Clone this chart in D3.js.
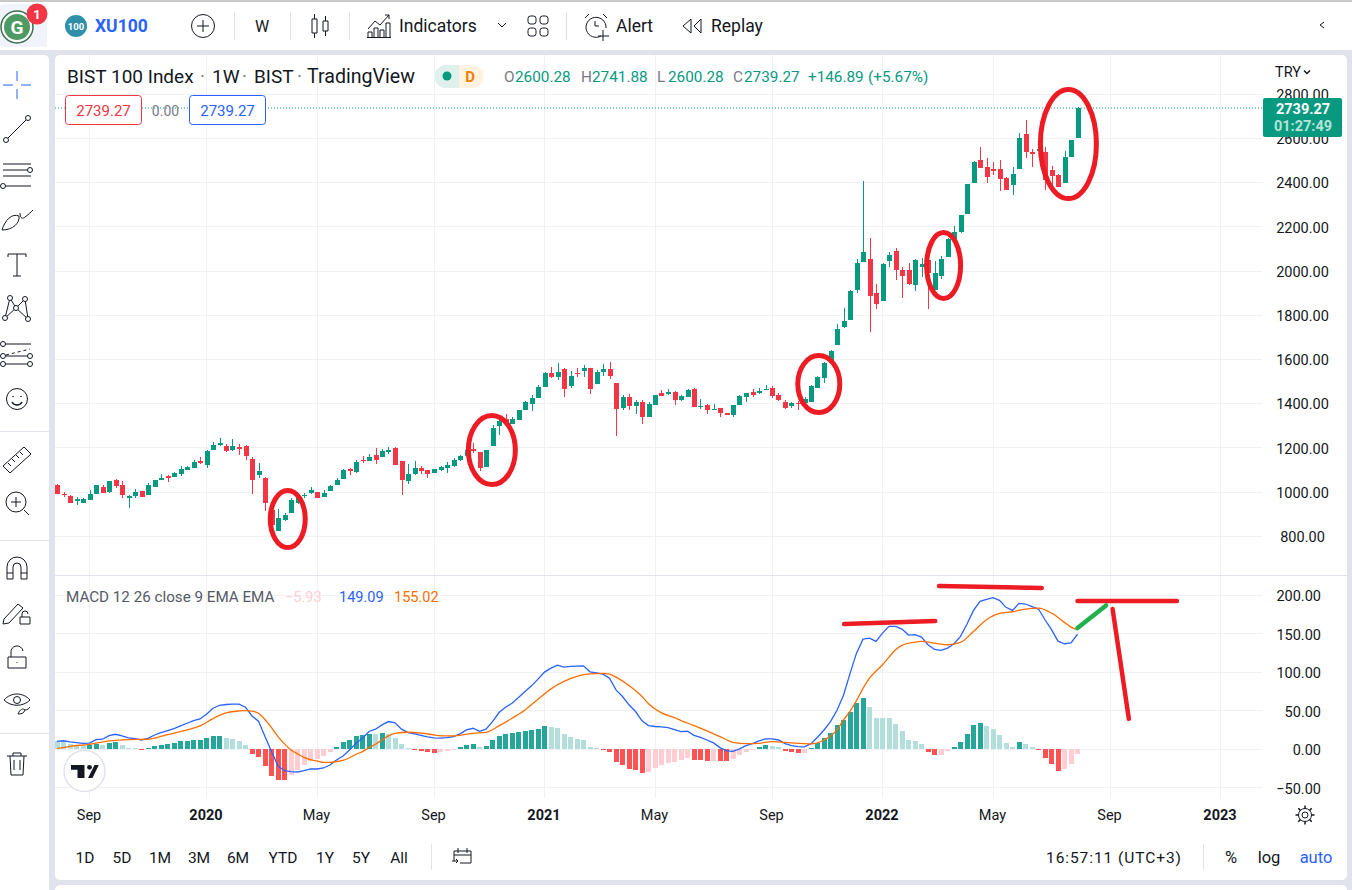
<!DOCTYPE html>
<html>
<head>
<meta charset="utf-8">
<script src="https://cdn.jsdelivr.net/npm/d3@7/dist/d3.min.js"></script>
<style>
  html, body { margin: 0; padding: 0; background: #e0e3eb; overflow: hidden; }
  svg { display: block; font-family: Roboto, sans-serif; }
  text { fill: #131722; }
</style>
</head>
<body>
<svg id="viz" width="1352" height="890"></svg>
<script>
// weekly candles, index 0 is the last week of Jul 2019
const opens = [1032,993,981,961,951,964,991,1023,1000,1055,
  1032,973,982,1005,987,1023,1055,1073,1068,1082,
  1100,1109,1141,1122,1190,1213,1209,1190,1204,1209,
  1150,1077,1064,919,824,874,905,951,982,996,
  1000,978,1005,1032,1059,1105,1091,1145,1141,1168,
  1159,1182,1200,1141,1050,1082,1109,1100,1087,1100,
  1109,1118,1145,1164,1195,1182,1114,1209,1299,1331,
  1308,1326,1372,1399,1426,1476,1539,1521,1557,1480,
  1539,1548,1562,1489,1544,1557,1494,1381,1430,1390,
  1408,1340,1394,1449,1444,1453,1417,1430,1467,1385,
  1394,1372,1381,1358,1349,1394,1430,1453,1449,1462,
  1471,1440,1408,1390,1403,1403,1408,1471,1516,1583,
  1666,1747,1779,1915,2041,2055,1901,1865,2046,2091,
  2005,2005,1937,2019,2050,1915,1978,2064,2141,2177,
  2258,2399,2503,2471,2462,2462,2421,2390,2462,2620,
  2539,2543,2539,2458,2435,2399,2516,2600.28];
const highs = [1035,999,985,976,972,1009,1032,1032,1050,1059,
  1050,987,1014,1005,1041,1055,1082,1077,1091,1118,
  1118,1145,1159,1190,1227,1245,1218,1240,1218,1213,
  1159,1132,1068,925,923,905,973,987,996,1023,
  1000,1009,1032,1064,1104,1109,1145,1164,1173,1200,
  1195,1204,1204,1141,1127,1141,1118,1100,1105,1118,
  1136,1154,1168,1195,1222,1182,1191,1304,1331,1354,
  1340,1372,1412,1440,1485,1544,1566,1584,1562,1548,
  1562,1575,1562,1553,1580,1589,1494,1440,1444,1417,
  1417,1408,1440,1462,1467,1458,1440,1467,1471,1421,
  1399,1399,1381,1358,1394,1440,1449,1467,1471,1485,
  1480,1449,1417,1408,1412,1430,1485,1525,1589,1643,
  1761,1833,1915,2055,2408,2150,1942,2037,2087,2105,
  2019,2037,2055,2059,2050,2046,2068,2150,2204,2254,
  2394,2498,2562,2512,2494,2503,2426,2471,2625,2684,
  2553,2560,2562,2476,2440,2544,2594,2741.88];
const lows = [991,979,951,942,951,964,991,996,996,1018,
  973,928,973,978,987,1023,1055,1046,1068,1073,
  1100,1109,1127,1109,1190,1209,1181,1186,1168,1145,
  991,1064,914,851,824,869,905,946,973,991,
  973,978,1005,1032,1059,1078,1087,1132,1141,1127,
  1159,1173,1123,987,1037,1078,1082,1064,1087,1096,
  1087,1114,1141,1160,1177,1096,1114,1209,1258,1304,
  1308,1326,1372,1367,1426,1476,1516,1507,1430,1471,
  1521,1521,1444,1489,1525,1512,1254,1372,1372,1354,
  1308,1340,1394,1435,1440,1394,1412,1430,1385,1376,
  1354,1372,1340,1349,1340,1394,1408,1430,1444,1462,
  1426,1412,1376,1381,1372,1403,1408,1471,1494,1583,
  1666,1743,1779,1901,2041,1725,1829,1865,2019,1960,
  1878,1937,1910,1973,1829,1915,1964,2064,2141,2172,
  2258,2399,2467,2399,2435,2363,2367,2345,2462,2512,
  2471,2512,2367,2390,2381,2399,2516,2600.28];
const closes = [993,987,951,970,967,991,1032,996,1050,1027,
  987,982,1000,978,1032,1055,1064,1065,1086,1104,
  1113,1136,1132,1186,1213,1222,1186,1209,1195,1163,
  1055,1095,951,851,883,896,964,979,987,1009,
  973,996,1027,1055,1100,1096,1136,1141,1159,1145,
  1186,1191,1123,1055,1082,1109,1096,1082,1105,1114,
  1123,1145,1164,1191,1186,1109,1191,1290,1322,1311,
  1331,1372,1408,1426,1476,1539,1521,1544,1467,1525,
  1534,1562,1467,1544,1557,1525,1376,1430,1390,1408,
  1340,1399,1440,1435,1453,1417,1435,1462,1385,1390,
  1372,1376,1358,1349,1394,1435,1449,1440,1458,1467,
  1435,1417,1381,1403,1399,1421,1480,1521,1584,1638,
  1738,1774,1910,2037,2087,1887,1851,2032,2073,2005,
  1978,1942,2050,2032,1992,1992,2055,2145,2177,2254,
  2394,2494,2467,2426,2453,2417,2367,2440,2602,2539,
  2530,2553,2412,2430,2381,2516,2593,2739.27];

const histogram = [11,10.9,7,5,4,5,7,6,8.5,9,
  5.5,2,1.7,-0.8,1.7,4.3,5.6,7.4,8.7,10.4,
  11.3,12.1,12.2,14.7,17.3,17.4,14.3,13,10.8,5.6,
  -6,-10,-21.6,-34.6,-39.8,-40,-33.3,-26.8,-20.4,-15.2,
  -12.6,-8.7,-3.5,3,9.5,12.1,17.3,18.6,20,19.5,
  21.2,19.9,14.7,7,1.7,-0.9,-2.6,-3.5,-4.8,-3,
  -2.2,-0.9,3,5.6,7,3,4.3,12.1,17.3,20,
  21.2,22.5,23.8,25.1,26.4,30.3,29,27.7,19.9,16,
  13.4,12.1,3,1.7,-0.9,-3.5,-16.5,-20.4,-25.6,-26.8,
  -30.7,-29.4,-24.3,-20.4,-17.8,-16.5,-13.9,-11.3,-13.9,-14,
  -15.2,-15,-15.3,-15.4,-12.6,-7.4,-3.5,-0.9,3,5.6,
  4.3,3,-2.2,-3.5,-4.8,-4.5,1.7,8.2,14.7,21.2,
  31.6,38.1,48.5,60.2,66.7,55,40.7,40.6,40.5,32.9,
  23.8,12.1,10.8,6.9,-3.5,-7.4,-7,-2.2,3,9.5,
  19.9,31.6,34.2,30.3,26.4,18.6,8.2,3,9.5,6.9,
  3,-0.9,-11.3,-19,-28.1,-25.5,-19,-5.93];
const macdLine = [10.3,11,9.5,8.6,7.7,8,12.5,13,17.7,19.4,
  17.3,14.7,13.8,12,14.2,18.5,21.6,24.2,26.8,30.2,
  33.7,37.2,39.3,45.4,53.2,57,58,58.4,58.4,54.5,
  43.2,36.3,16.4,-3,-21.7,-27.8,-29,-29.5,-27.8,-25.6,
  -25.6,-24.3,-20.4,-14,-8.7,-1,7.7,14.2,23,26,
  31.6,35.9,34.2,26,21.6,19.9,18.1,16,14.7,14.3,
  15.1,16.4,19.9,25.1,27.2,23.3,26,35.9,47.6,54.5,
  59.7,67,74.9,82.2,90.9,100,105.2,109.1,106.5,107.4,
  107.8,108.2,100.4,99,97.4,92.2,77,68.4,57.6,48.9,
  36.8,30.7,29.5,29,28,25.5,22.9,23.3,18.1,15.5,
  12,8.2,2.1,-2.2,-2.7,0.4,4.7,7.3,10.8,13.4,
  13.4,12,7.3,4.7,3.4,3,7.3,15.5,25,35.9,
  50.6,70,98,124.6,142.8,144.1,139.8,150.6,159.3,159.3,
  155.8,148,148.5,145.4,135.5,129.4,128.1,131.1,136.8,146.3,
  162.3,180,191.8,194.3,196.5,193.1,184,180,189.2,188.3,
  184.8,181.8,167.9,155,140.2,136.8,138,149.09];
// signal line was read at these weeks only
const signalWeeks = [0,2,5,8,11,14,17,20,22,24,26,28,29,30,31,32,33,34,35,36,37,38,39,40,41,42,43,44,45,46,47,48,49,50,51,52,
  54,56,58,60,62,64,66,68,70,72,74,76,78,80,82,84,85,86,88,90,91,93,95,96,98,100,102,104,106,108,110,112,114,116,118,
  120,121,122,123,124,125,127,128,129,130,132,133,135,137,139,141,143,145,147,149,151,153,155,156,157];
const signalLine = [0.8,3.8,6.4,10.8,12.5,12.9,19,25,30.2,39.8,47.1,49.7,50.2,49.3,46.7,38.5,28,16.4,6.9,-1,-6,-10.5,-13.4,-15.2,-17,-17,-16,-14.3,-11,-6.5,-3,2,6.5,12,17.3,20.7,
  22,21,18.6,17.3,18.1,20.7,22,30.3,40.2,51,64.9,78.3,87.9,94.4,97.8,98.3,97.4,93.5,82.7,68.4,59,47.1,41,37.2,30.7,23.7,16.4,9,7.3,7.7,9.9,9,7.7,6.9,12,
  25,38,49,63,79,92.2,109.5,119.4,129,134.6,138.9,139.8,137.6,135.5,138.5,152.8,167.9,176.2,178.3,181.8,183.1,176.6,164.5,158.4,155.02];

const priceTicks = [800,1000,1200,1400,1600,1800,2000,2200,2400,2600,2800];
const macdTicks = [-50,0,50,100,150,200];
const timeWeeks = [5,23,40,58,75,92,110,127,144,162,179];
const timeLabels = ["Sep","2020","May","Sep","2021","May","Sep","2022","May","Sep","2023"];
const yearLabels = ["2020","2021","2022","2023"];

// hand drawn marks on the screenshot
const circleWeeks = [35.5,66.9,117.2,136.4,155.6];
const circlePrices = [878,1190,1489,2025,2575];
const circleRx = [17.5,23.5,21,17,28];
const circleRy = [28.5,34.5,28.5,33,54.5];
const strokeWeeks = [[121.1,135.1],[135.7,151.5],[157,172.3],[162.4,164.9],[157,161.4]];
const strokeValues = [[162.3,166.2],[211.7,209],[192.2,192.2],[181.8,39.4],[157.1,186.5]];
const strokeColors = ["#ed1c24","#ed1c24","#ed1c24","#ed1c24","#22b14c"];

const UP = "#089981", DOWN = "#f23645";

const svg = d3.select("#viz");
const x = d3.scaleLinear().domain([0, 157]).range([57, 1077.5]);
const yPrice = d3.scaleLinear().domain([800, 2800]).range([536.3, 94.3]);
const yMacd = d3.scaleLinear().domain([-50, 200]).range([787.8, 595]);

// page frame
svg.append("rect").attr("width", 1352).attr("height", 890).attr("fill", "#e0e3eb");
svg.append("rect").attr("width", 1352).attr("height", 50).attr("fill", "#fff");
svg.append("rect").attr("width", 1352).attr("height", 2).attr("fill", "#c9c9c9");
svg.append("rect").attr("x", -8).attr("y", 55).attr("width", 57).attr("height", 845).attr("rx", 5).attr("fill", "#fff");
svg.append("rect").attr("x", 55).attr("y", 55).attr("width", 1292).attr("height", 825).attr("rx", 5).attr("fill", "#fff");
svg.append("rect").attr("x", 55).attr("y", 885).attr("width", 1292).attr("height", 20).attr("rx", 5).attr("fill", "#fff");

svg.append("clipPath").attr("id", "pane").append("rect")
  .attr("x", 55).attr("y", 55).attr("width", 1207).attr("height", 743);

// grid
const grid = svg.append("g").attr("stroke", "#f1f1f3").attr("stroke-width", 1).attr("shape-rendering", "crispEdges");
grid.selectAll(".gx").data(timeWeeks).join("line")
  .attr("x1", d => x(d)).attr("x2", d => x(d)).attr("y1", 55).attr("y2", 798);
grid.selectAll(".gp").data(priceTicks).join("line")
  .attr("x1", 55).attr("x2", 1262).attr("y1", d => yPrice(d)).attr("y2", d => yPrice(d));
grid.selectAll(".gm").data(macdTicks).join("line")
  .attr("x1", 55).attr("x2", 1262).attr("y1", d => yMacd(d)).attr("y2", d => yMacd(d));
svg.append("line").attr("x1", 55).attr("x2", 1347).attr("y1", 575.5).attr("y2", 575.5).attr("stroke", "#e0e3eb");

// histogram
const marks = svg.append("g").attr("clip-path", "url(#pane)");
function histColor(d, i) {
  const prev = histogram[i - 1];
  if (d >= 0) return prev !== undefined && d > prev ? "#26a69a" : "#b2dfdb";
  return d < prev ? "#ff5252" : "#ffcdd2";
}
marks.append("g").attr("shape-rendering", "crispEdges").selectAll("rect").data(histogram).join("rect")
  .attr("x", (d, i) => x(i) - 2.5)
  .attr("width", 5)
  .attr("y", d => Math.min(yMacd(d), yMacd(0)))
  .attr("height", d => Math.max(1, Math.abs(yMacd(d) - yMacd(0))))
  .attr("fill", histColor);

// macd + signal
marks.append("path").datum(macdLine)
  .attr("fill", "none").attr("stroke", "#2962ff").attr("stroke-width", 1.3)
  .attr("d", d3.line().x((d, i) => x(i)).y(d => yMacd(d)));
marks.append("path").datum(signalLine)
  .attr("fill", "none").attr("stroke", "#ff6d00").attr("stroke-width", 1.3)
  .attr("d", d3.line().curve(d3.curveMonotoneX).x((d, i) => x(signalWeeks[i])).y(d => yMacd(d)));

// candles
const candles = marks.append("g").attr("shape-rendering", "crispEdges")
  .selectAll("g").data(opens).join("g")
  .attr("fill", (d, i) => closes[i] >= d ? UP : DOWN);
candles.append("rect")
  .attr("x", (d, i) => Math.round(x(i)) - 0.5).attr("width", 1)
  .attr("y", (d, i) => yPrice(highs[i]))
  .attr("height", (d, i) => yPrice(lows[i]) - yPrice(highs[i]));
candles.append("rect")
  .attr("x", (d, i) => Math.round(x(i)) - 2.5).attr("width", 5)
  .attr("y", (d, i) => yPrice(Math.max(d, closes[i])))
  .attr("height", (d, i) => Math.max(1, Math.abs(yPrice(d) - yPrice(closes[i]))));

// last price line
const last = closes[closes.length - 1];
svg.append("line").attr("x1", 55).attr("x2", 1263)
  .attr("y1", yPrice(last) + 0.3).attr("y2", yPrice(last) + 0.3)
  .attr("stroke", UP).attr("stroke-dasharray", "1 2");

// axes
const priceAxis = d3.axisRight(yPrice).tickValues(priceTicks).tickSize(0).tickFormat(d3.format(".2f"));
const macdAxis = d3.axisRight(yMacd).tickValues(macdTicks).tickSize(0).tickFormat(d3.format(".2f"));
const timeAxis = d3.axisBottom(x).tickValues(timeWeeks).tickSize(0).tickFormat((d, i) => timeLabels[i]);

const pa = svg.append("g").attr("transform", "translate(1302.5,0.6)").call(priceAxis);
pa.select(".domain").remove();
pa.selectAll("text").attr("x", 0).attr("text-anchor", "middle").attr("fill", "#131722").attr("font-size", 14.5).attr("font-family", "Roboto");
const ma = svg.append("g").attr("transform", "translate(1321,1)").call(macdAxis);
ma.select(".domain").remove();
ma.selectAll("text").attr("x", 0).attr("text-anchor", "end").attr("fill", "#131722").attr("font-size", 14.5).attr("font-family", "Roboto");
const ta = svg.append("g").attr("transform", "translate(-1,809)").call(timeAxis);
ta.select(".domain").remove();
ta.selectAll("text").attr("y", 0).attr("dy", "0.75em").attr("fill", "#131722").attr("font-size", 14.5).attr("font-family", "Roboto")
  .attr("font-weight", (d, i) => yearLabels.includes(timeLabels[i]) ? 700 : 400);

// price tag
svg.append("rect").attr("x", 1263).attr("y", 98).attr("width", 79).attr("height", 39).attr("rx", 2).attr("fill", UP);
label(1303, 114, "2739.27", 14.5, "#fff", "middle", 700);
label(1303, 131, "01:27:49", 14.5, "#b5e3d8", "middle", 700);

function label(px, py, str, size, color, anchor, weight) {
  return svg.append("text").attr("x", px).attr("y", py).text(str)
    .attr("font-size", size).style("fill", color)
    .attr("text-anchor", anchor || "start").attr("font-weight", weight || 400);
}

// chart header
label(67, 83, "BIST 100 Index", 19, "#131722");
label(200, 83, "·", 19, "#787b86");
label(212, 83, "1W", 19, "#131722");
label(242, 83, "·", 19, "#787b86");
label(254, 83, "BIST", 19, "#131722");
label(297, 83, "·", 19, "#787b86");
label(307, 83, "TradingView", 19.6, "#131722");
svg.append("path").attr("d", "M459 65H446a11.5 11.5 0 0 0 0 23H459Z").attr("fill", "#dff1ec");
svg.append("path").attr("d", "M459 65H472a11.5 11.5 0 0 1 0 23H459Z").attr("fill", "#fff3e0");
svg.append("circle").attr("cx", 447).attr("cy", 76).attr("r", 4.5).attr("fill", UP);
label(470, 82, "D", 15, "#f57c00", "middle", 700);
const ohlc = [["O", "2600.28", 504], ["H", "2741.88", 581], ["L", "2600.28", 657], ["C", "2739.27", 733]];
ohlc.forEach(o => {
  label(o[2], 82, o[0], 15.3, "#787b86");
  label(o[2] + 11, 82, o[1], 15.3, UP);
});
label(808, 82, "+146.89", 15.3, UP);
label(868, 82, "(+5.67%)", 15.3, UP);

// order boxes
svg.append("rect").attr("x", 65.5).attr("y", 95.5).attr("width", 76).attr("height", 29).attr("rx", 3).attr("fill", "#fff").attr("stroke", DOWN);
label(103.5, 116, "2739.27", 15, DOWN, "middle");
label(165.5, 116, "0.00", 14, "#787b86", "middle");
svg.append("rect").attr("x", 189.5).attr("y", 95.5).attr("width", 76).attr("height", 29).attr("rx", 3).attr("fill", "#fff").attr("stroke", "#2962ff");
label(227.5, 116, "2739.27", 15, "#2962ff", "middle");

// macd legend
label(66, 602, "MACD 12 26 close 9 EMA EMA", 15.2, "#555a66");
label(285, 602, "\u22125.93", 14.5, "#ffcdd2");
label(339, 602, "149.09", 14.5, "#2962ff");
label(394, 602, "155.02", 14.5, "#ff6d00");

// tv logo
svg.append("circle").attr("cx", 84.5).attr("cy", 771).attr("r", 20.5).attr("fill", "#fff").attr("stroke", "#e0e3eb").attr("stroke-width", 1.5);
svg.append("path").attr("d", "M71 765H84.5V778H77.5V769.8H71ZM94.5 765H98.8L92.5 778H88Z").attr("fill", "#131722");
svg.append("circle").attr("cx", 89.5).attr("cy", 767.3).attr("r", 2.4).attr("fill", "#131722");

// hand drawn annotations
const notes = svg.append("g").attr("fill", "none");
notes.selectAll("ellipse").data(circleWeeks).join("ellipse")
  .attr("cx", d => x(d)).attr("cy", (d, i) => yPrice(circlePrices[i]))
  .attr("rx", (d, i) => circleRx[i]).attr("ry", (d, i) => circleRy[i])
  .attr("stroke", "#ed1c24").attr("stroke-width", 5);
notes.selectAll("line").data(strokeWeeks).join("line")
  .attr("x1", d => x(d[0])).attr("x2", d => x(d[1]))
  .attr("y1", (d, i) => yMacd(strokeValues[i][0])).attr("y2", (d, i) => yMacd(strokeValues[i][1]))
  .attr("stroke", (d, i) => strokeColors[i]).attr("stroke-width", 4.5).attr("stroke-linecap", "round");

// gear under the price axis
const gear = svg.append("g").attr("transform", "translate(1305,815)").attr("fill", "none").attr("stroke", "#131722");
gear.append("circle").attr("r", 3);
gear.append("circle").attr("r", 6.5);
gear.selectAll("line").data(d3.range(8)).join("line")
  .attr("y1", -6.5).attr("y2", -9.5).attr("stroke-width", 1.5).attr("transform", d => `rotate(${d * 45})`);

// bottom bar
const ranges = [["1D", 85], ["5D", 122], ["1M", 160], ["3M", 199], ["6M", 238], ["YTD", 283], ["1Y", 325], ["5Y", 361], ["All", 399]];
ranges.forEach(r => label(r[1], 863, r[0], 15.5, "#131722", "middle"));
[431, 1203].forEach(px => svg.append("line").attr("x1", px + 0.5).attr("x2", px + 0.5).attr("y1", 844).attr("y2", 870).attr("stroke", "#e0e3eb"));
const cal = svg.append("g").attr("transform", "translate(452,848)").attr("fill", "none").attr("stroke", "#131722");
cal.append("path").attr("d", "M2 13V3H19V15H8M2 7H19M6 0V5M15 0V5M0 13H6L4 11M6 13L4 15");
label(1046, 863, "16:57:11 (UTC+3)", 15.5, "#131722").attr("textLength", 135);
label(1231, 863, "%", 16.5, "#131722", "middle");
label(1269, 863, "log", 16.5, "#131722", "middle");
label(1316, 863, "auto", 16.5, "#2962ff", "middle");

// top bar
svg.append("rect").attr("y", 4).attr("width", 47).attr("height", 43).attr("rx", 3).attr("fill", "#f0f3fa");
svg.append("circle").attr("cx", 17).attr("cy", 27).attr("r", 16).attr("fill", "#fff").attr("stroke", "#3c6e4f").attr("stroke-width", 1.5);
svg.append("circle").attr("cx", 17).attr("cy", 27).attr("r", 13).attr("fill", "#4f9a63");
label(17, 34, "G", 19, "#fff", "middle", 700);
svg.append("circle").attr("cx", 37).attr("cy", 14).attr("r", 10.5).attr("fill", "#f23645");
label(37, 19, "1", 13, "#fff", "middle", 700);
svg.append("circle").attr("cx", 76).attr("cy", 26).attr("r", 11).attr("fill", "#2f8fa8");
label(76, 29.5, "100", 9.5, "#fff", "middle", 700);
label(95, 32, "XU100", 17.5, "#2962ff", "start", 700);

const icon = (tx, ty) => svg.append("g").attr("transform", `translate(${tx},${ty})`).attr("fill", "none").attr("stroke", "#131722").attr("stroke-width", 1);
const plus = icon(203, 26);
plus.append("circle").attr("r", 11.5);
plus.append("path").attr("d", "M-6 0H6M0 -6V6");
[234, 290, 349, 566].forEach(px => svg.append("line").attr("x1", px + 0.5).attr("x2", px + 0.5).attr("y1", 12).attr("y2", 40).attr("stroke", "#e0e3eb"));
label(262, 32, "W", 16, "#131722", "middle");
icon(320, 26).append("path").attr("d", "M-8 -7H-3V7H-8ZM-5.5 -12V-7M-5.5 7V12M3 -5H8V5H3ZM5.5 -10V-5M5.5 5V10");
const ind = icon(379, 26);
ind.append("path").attr("d", "M-11 3L-4 -5L1 -1L10 -11M6 -11H10V-7");
ind.append("path").attr("d", "M-11 11V6H-7V11M-5 11V2H-1V11M1 11V4H5V11M7 11V-3H11V11M-12 11.5H12");
label(399, 32, "Indicators", 17.5, "#131722");
icon(502, 25).append("path").attr("d", "M-4 -2L0 2L4 -2");
const layout = icon(538, 26);
[[-10, -10], [2, -10], [-10, 2], [2, 2]].forEach(p => layout.append("rect").attr("x", p[0]).attr("y", p[1]).attr("width", 8).attr("height", 8).attr("rx", 2.5));
const alert = icon(596, 26);
alert.append("path").attr("d", "M5 10A10 10 0 1 1 10 2M-11 -8L-7 -12M7 -12L11 -8M-1 -5V0H3M7 4V15M2 10H13");
label(616, 32, "Alert", 17.5, "#131722");
icon(692, 26).append("path").attr("d", "M-1 -7L-9 0L-1 7ZM9 -7L2 0L9 7Z");
label(711, 32, "Replay", 17.5, "#131722");
icon(1322, 25).append("path").attr("d", "M2 -3L-2 0L2 3");
label(1275, 77, "TRY", 14.5, "#131722");
icon(1307, 72).append("path").attr("d", "M-3 -1.5L0 1.5L3 -1.5").attr("stroke-width", 1.5);

// left toolbar
const crosshair = svg.append("g").attr("transform", "translate(17,85)").attr("stroke", "#2962ff");
crosshair.append("path").attr("d", "M-14 0H-4M4 0H14M0 -14V-4M0 4V14").attr("fill", "none");
const tool = y => icon(17, y);
const line1 = tool(129);
line1.append("path").attr("d", "M-10 10L10 -10");
line1.append("circle").attr("cx", -11).attr("cy", 11).attr("r", 2.5).attr("fill", "#fff");
line1.append("circle").attr("cx", 11).attr("cy", -11).attr("r", 2.5).attr("fill", "#fff");
const rows = tool(175);
rows.append("path").attr("d", "M-14 -11H14M-14 -5H11M-14 1H14M-11 11H14");
rows.append("circle").attr("cx", 13).attr("cy", -5).attr("r", 2.5).attr("fill", "#fff");
rows.append("circle").attr("cx", -14).attr("cy", 11).attr("r", 2.5).attr("fill", "#fff");
tool(221).append("path").attr("d", "M-15 9C-12 -1 -5 -8 2 -5C3 2 -4 9 -15 9ZM3 -8C3 -2 6 -2 8 -4C11 -6 14 -9 16 -11");
tool(265).append("path").attr("d", "M-9 -8V-11H9V-8M0 -11V11M-4 11H4");
const net = tool(308);
net.append("path").attr("d", "M-7 -10L-1 0L8 -9L11 11L-1 0L-12 10L-7 -10M8 -9L-1 0");
[[-7, -10], [8, -9], [-1, 0], [-12, 10], [11, 11]].forEach(p => net.append("circle").attr("cx", p[0]).attr("cy", p[1]).attr("r", 2.5).attr("fill", "#fff"));
const fib = tool(354);
fib.append("path").attr("d", "M-12 -10H14M-12 10H11");
fib.append("path").attr("d", "M-11 1L13 -5").attr("stroke-dasharray", "3 3");
fib.append("path").attr("d", "M-11 2H11");
[[-14, -10], [-14, 2], [-14, 10], [13, 2], [13, 10]].forEach(p => fib.append("circle").attr("cx", p[0]).attr("cy", p[1]).attr("r", 2.5).attr("fill", "#fff"));
const smile = tool(399);
smile.append("circle").attr("r", 10.5);
smile.append("path").attr("d", "M-5 3C-3 7 3 7 5 3M-4 -3V-2M4 -3V-2").attr("stroke-width", 1.5);
[431, 540, 733].forEach(py => svg.append("line").attr("x1", 0).attr("x2", 49).attr("y1", py + 0.5).attr("y2", py + 0.5).attr("stroke", "#e0e3eb"));
tool(460).append("path").attr("d", "M-14 6L7 -13L14 -6L-7 13ZM-9 3L-6 6M-5 -1L-2 2M-1 -5L2 -2M3 -8L6 -5");
const zoomIcon = tool(503);
zoomIcon.append("circle").attr("cx", -1).attr("cy", -1).attr("r", 10);
zoomIcon.append("path").attr("d", "M-6 -1H4M-1 -6V4M7 7L12 12");
tool(568).append("path").attr("d", "M-10 11V-1A10 10 0 0 1 10 -1V11H4V-1A4 4 0 0 0 -4 -1V11ZM-10 5H-4M4 5H10");
const pencil = tool(612);
pencil.append("path").attr("d", "M-13 7L1 -8L6 -4L-8 11L-14 12Z");
pencil.append("path").attr("d", "M3 5H13V12H3ZM5 5V2A3 3 0 0 1 11 2");
const lockIcon = tool(658);
lockIcon.append("path").attr("d", "M-9 -1H9V10H-9ZM-6 -1V-5A6 6 0 0 1 6 -7M0 4V5");
const eye = tool(703);
eye.append("path").attr("d", "M-13 -3C-6 -11 6 -11 13 -3C6 4 -6 4 -13 -3Z");
eye.append("circle").attr("cy", -3).attr("r", 3.5);
eye.append("path").attr("d", "M1 11C3 6 6 5 8 7C7 10 5 11 1 11ZM8 7C11 7 12 5 13 4");
tool(764).append("path").attr("d", "M-10 -8H10M-7 -8L-6 11H6L7 -8M-4 -8V-11H4V-8M-3 -4V6M3 -4V6");
</script>
</body>
</html>
